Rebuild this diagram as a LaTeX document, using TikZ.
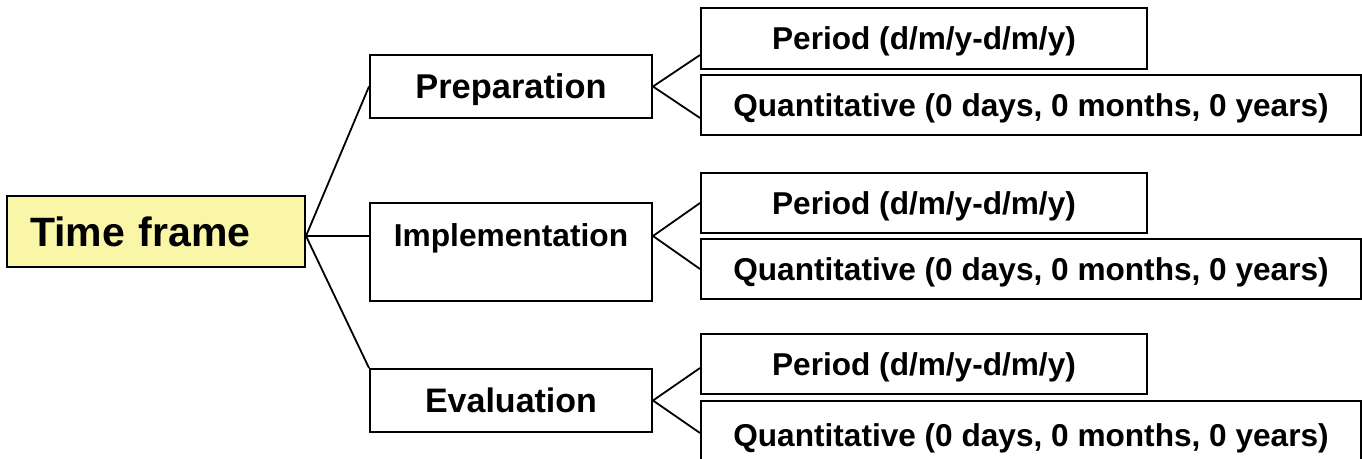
\documentclass[tikz,border=0pt]{standalone}
\usepackage{fontspec}
\setmainfont{Liberation Sans}
\definecolor{tfyellow}{RGB}{250,246,168}
\newcommand\boxfont[1]{\fontsize{#1}{#1}\selectfont\bfseries}
\begin{document}
\begin{tikzpicture}[x=1pt,y=-1pt,
  box/.style={draw=black, line width=2pt, inner xsep=0pt, inner ysep=0pt,
              text depth=0pt, align=center},
  sub/.style={box, font=\boxfont{31.6}, text height=22.6pt},
  link/.style={line width=1.8pt}]
  \clip (0,0) rectangle (1362,458);

  % root
  \node[box, fill=tfyellow, font=\boxfont{41}, text height=29.4pt,
        text width=252pt, inner xsep=23pt, align=left, minimum height=71pt]
        (tf) at (156,231.5) {Time frame};

  % phases
  \node[box, font=\boxfont{34.4}, text height=24.6pt, minimum width=282pt,
        minimum height=63pt] (prep) at (511,86.5) {Preparation};
  \node[box, font=\boxfont{31.7}, text height=43pt, text depth=55pt,
        minimum width=282pt, anchor=base] (impl) at (511,246) {Implementation};
  \node[box, font=\boxfont{34}, text height=24.3pt, minimum width=282pt,
        minimum height=63pt] (eval) at (511,400.5) {Evaluation};

  % details of each phase
  \node[sub, minimum width=446pt, minimum height=61pt] (per1) at (924,38.5) {Period (d/m/y-d/m/y)};
  \node[sub, minimum width=660pt, minimum height=60pt] (qua1) at (1031,105) {Quantitative (0 days, 0 months, 0 years)};
  \node[sub, minimum width=446pt, minimum height=60pt] (per2) at (924,203) {Period (d/m/y-d/m/y)};
  \node[sub, minimum width=660pt, minimum height=60pt] (qua2) at (1031,269) {Quantitative (0 days, 0 months, 0 years)};
  \node[sub, minimum width=446pt, minimum height=60pt] (per3) at (924,364) {Period (d/m/y-d/m/y)};
  \node[sub, minimum width=660pt, minimum height=68pt] (qua3) at (1031,435) {Quantitative (0 days, 0 months, 0 years)};

  % connectors
  \coordinate (tfj) at ([yshift=-4.5pt]tf.east);
  \draw[link] (tfj) -- (prep.west);
  \draw[link] (tfj) -- (impl.west |- tfj);
  \draw[link] (tfj) -- (eval.north west);

  \draw[link] ([yshift=-16.5pt]per1.west) -- (prep.east) -- ([yshift=-13pt]qua1.west);
  \coordinate (implj) at (impl.east |- tfj);
  \draw[link] (per2.west) -- (implj) -- (qua2.west);
  \draw[link] ([yshift=-4pt]per3.west) -- (eval.east) -- ([yshift=2pt]qua3.west);
\end{tikzpicture}
\end{document}
